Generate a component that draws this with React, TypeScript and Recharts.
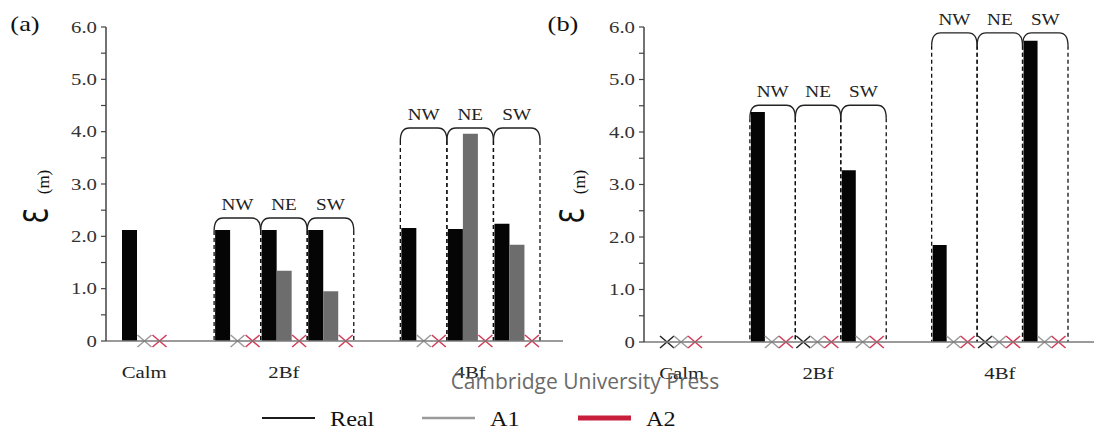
import { BarChart, Bar, XAxis, YAxis, ReferenceArea, Rectangle } from 'recharts';

// categories along the x axis (gaps are empty spacer slots)
const CATEGORIES = ['Calm', 'gap1', '2Bf-NW', '2Bf-NE', '2Bf-SW', 'gap2', '4Bf-NW', '4Bf-NE', '4Bf-SW'];
const TICK_LABELS = ['Calm', '', '', '2Bf', '', '', '', '4Bf', ''];

// panel (a)
const REAL_A = [2.12, null, 2.12, 2.12, 2.12, null, 2.16, 2.14, 2.24];
const A1_A = [0, null, 0, 1.34, 0.95, null, 0, 3.96, 1.84];
const A2_A = [0, null, 0, 0, 0, null, 0, 0, 0];

// panel (b)
const REAL_B = [0, null, 4.38, 0, 3.27, null, 1.85, 0, 5.74];
const A1_B = [0, null, 0, 0, 0, null, 0, 0, 0];
const A2_B = [0, null, 0, 0, 0, null, 0, 0, 0];

// wind direction brackets
const BRACE_CATS = ['2Bf-NW', '2Bf-NE', '2Bf-SW', '4Bf-NW', '4Bf-NE', '4Bf-SW'];
const BRACE_LABELS = ['NW', 'NE', 'SW', 'NW', 'NE', 'SW'];
const BRACE_TOP_A = [2.35, 2.35, 2.35, 4.07, 4.07, 4.07];
const BRACE_TOP_B = [4.51, 4.51, 4.51, 5.89, 5.89, 5.89];

const Y_TICKS = [0, 0.5, 1, 1.5, 2, 2.5, 3, 3.5, 4, 4.5, 5, 5.5, 6];

const LEGEND = [
    { name: 'Real', color: '#1c1c1c', width: 2 },
    { name: 'A1', color: '#9a9a9a', width: 2.5 },
    { name: 'A2', color: '#c8203c', width: 5 }
];
const LEGEND_X = [262, 422, 578];

const SERIF = '"Liberation Serif", "Times New Roman", serif';
const COLORS = { real: '#050505', a1: '#6d6d6d', a2: '#c8203c' };
const X_COLORS = { real: '#222222', a1: '#9a9a9a', a2: '#d23a55' };

const buildData = (real: (number | null)[], a1: (number | null)[], a2: (number | null)[]) =>
    CATEGORIES.map((key, i) => ({ key, real: real[i], a1: a1[i], a2: a2[i] }));

const SText = ({ x, y, sx = 1.25, size = 16, anchor = 'middle', fill = '#222', children }: any) => (
    <text
        transform={`translate(${x},${y}) scale(${sx},1)`}
        textAnchor={anchor}
        fontFamily={SERIF}
        fontSize={size}
        fill={fill}
    >
        {children}
    </text>
);

// bar, or an X at the baseline when the value is zero
const makeShape = (key: 'real' | 'a1' | 'a2') => (props: any) => {
    const v = props.payload ? props.payload[key] : null;
    if (v === null || v === undefined) return <g />;
    if (v === 0) {
        const cx = props.x + props.width / 2;
        const by = props.y + props.height;
        const h = 7;
        return (
            <g stroke={X_COLORS[key]} strokeWidth={1.5}>
                <line x1={cx - h} y1={by - 6} x2={cx + h} y2={by + 6} />
                <line x1={cx - h} y1={by + 6} x2={cx + h} y2={by - 6} />
            </g>
        );
    }
    return <Rectangle x={props.x} y={props.y} width={props.width} height={props.height} fill={COLORS[key]} />;
};

const Brace = ({ x, y, width, height, label }: any) => {
    const curl = 13;
    const base = y + height;
    return (
        <g>
            <path
                d={`M${x},${y + curl} Q${x},${y} ${x + 9},${y} L${x + width - 9},${y} Q${x + width},${y} ${x + width},${y + curl}`}
                fill="none"
                stroke="#222"
                strokeWidth={1.3}
            />
            <line x1={x} y1={y + curl} x2={x} y2={base} stroke="#111" strokeWidth={1.3} strokeDasharray="4 3" />
            <line x1={x + width} y1={y + curl} x2={x + width} y2={base} stroke="#111" strokeWidth={1.3} strokeDasharray="4 3" />
            <SText x={x + width / 2} y={y - 8} sx={1.2} size={16}>{label}</SText>
        </g>
    );
};

const YTick = ({ x, y, payload }: any) => {
    const v = payload.value;
    if (!Number.isInteger(v)) return <g />;
    return (
        <SText x={x} y={y + 5.5} anchor="end" sx={1.3} size={16} fill="#333">
            {v === 0 ? '0' : v.toFixed(1)}
        </SText>
    );
};

const XTick = ({ x, y, payload }: any) => {
    const label = TICK_LABELS[payload.index];
    if (!label) return <g />;
    return <SText x={x} y={y + 29} sx={1.3} size={16}>{label}</SText>;
};

interface PanelProps {
    data: ReturnType<typeof buildData>;
    braceTops: number[];
    left: number;
    width: number;
    axisWidth: number;
    padRight: number;
    bottom: number;
    labelX: number;
    labelY: number;
}

const Panel = ({ data, braceTops, left, width, axisWidth, padRight, bottom, labelX, labelY }: PanelProps) => (
    <div style={{ position: 'absolute', left, top: 0 }}>
        <BarChart
            width={width}
            height={432}
            data={data}
            margin={{ top: 27, right: 0, bottom, left: 0 }}
            barGap={0}
            barCategoryGap={1}
        >
            <XAxis
                dataKey="key"
                interval={0}
                tickLine={false}
                axisLine={{ stroke: '#7a7a7a', strokeWidth: 1.5 }}
                tick={<XTick />}
                height={40}
                padding={{ left: 15, right: padRight }}
            />
            <YAxis
                domain={[0, 6]}
                ticks={Y_TICKS}
                interval={0}
                width={axisWidth}
                tickSize={5}
                tickMargin={4}
                axisLine={{ stroke: '#444', strokeWidth: 1.5 }}
                tickLine={{ stroke: '#444', strokeWidth: 1.2 }}
                tick={<YTick />}
                label={{
                    content: () => (
                        <g transform={`translate(${labelX},${labelY}) rotate(-90)`}>
                            <text transform="scale(0.75,1)" textAnchor="middle" fontFamily='"DejaVu Sans", sans-serif'
                                fontSize={34} fill="#111">Ɛ</text>
                            <text x={34} y={1} textAnchor="middle" fontFamily={SERIF} fontSize={17} fill="#111">(m)</text>
                        </g>
                    )
                }}
            />
            {BRACE_CATS.map((cat, i) => (
                <ReferenceArea
                    key={cat}
                    x1={cat}
                    x2={cat}
                    y1={0}
                    y2={braceTops[i]}
                    ifOverflow="visible"
                    shape={(p: any) => <Brace {...p} label={BRACE_LABELS[i]} />}
                />
            ))}
            <Bar dataKey="real" isAnimationActive={false} shape={makeShape('real')} />
            <Bar dataKey="a1" isAnimationActive={false} shape={makeShape('a1')} />
            <Bar dataKey="a2" isAnimationActive={false} shape={makeShape('a2')} />
        </BarChart>
    </div>
);

export default function App() {
    const dataA = buildData(REAL_A, A1_A, A2_A);
    const dataB = buildData(REAL_B, A1_B, A2_B);
    return (
        <div style={{ position: 'absolute', left: 0, top: 0, width: 1094, height: 432, background: '#fff', overflow: 'hidden' }}>
            <Panel data={dataA} braceTops={BRACE_TOP_A} left={0} width={563} axisWidth={106} padRight={23}
                bottom={51} labelX={48} labelY={216} />
            <Panel data={dataB} braceTops={BRACE_TOP_B} left={540} width={554} axisWidth={104} padRight={26}
                bottom={50} labelX={44} labelY={216} />
            <svg width={1094} height={432} style={{ position: 'absolute', left: 0, top: 0, pointerEvents: 'none' }}>
                <SText x={25} y={31} sx={1.2} size={22} fill="#111">(a)</SText>
                <SText x={563} y={31} sx={1.2} size={22} fill="#111">(b)</SText>
                <text x={585} y={389} textAnchor="middle" fontFamily='"Open Sans", sans-serif' fontSize={21} fill="#5a5a5a" opacity={0.9}>
                    Cambridge University Press
                </text>
                {LEGEND.map((item, i) => (
                    <g key={item.name}>
                        <line x1={LEGEND_X[i]} y1={418} x2={LEGEND_X[i] + 53} y2={418} stroke={item.color} strokeWidth={item.width} />
                        <SText x={LEGEND_X[i] + 68} y={426} anchor="start" sx={1.1} size={22} fill="#111">{item.name}</SText>
                    </g>
                ))}
            </svg>
        </div>
    );
}
